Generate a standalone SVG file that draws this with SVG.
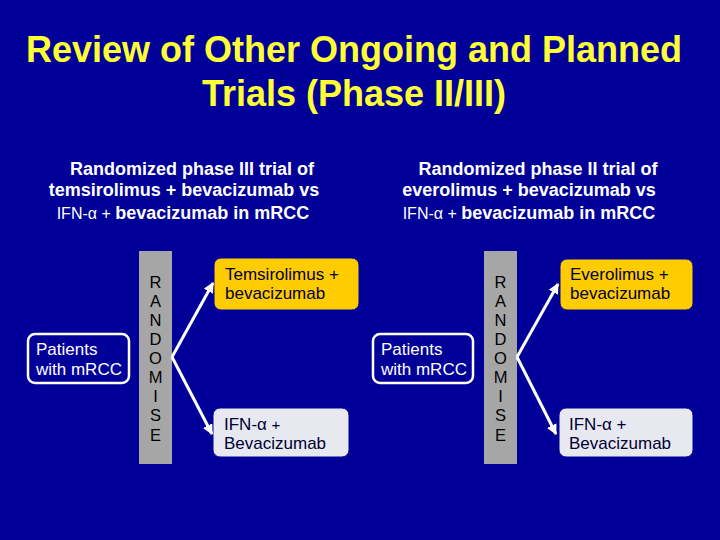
<svg xmlns="http://www.w3.org/2000/svg" width="720" height="540" viewBox="0 0 720 540">
<defs>
<style>
.t{font-family:"Liberation Sans",Arial,sans-serif;}
.title{font-size:36px;font-weight:bold;fill:#FFFF33;text-anchor:middle;}
.sub{font-size:18px;font-weight:bold;fill:#FFFFFF;text-anchor:middle;}
.subn{font-weight:normal;font-size:16px;}
.pat{fill:#000099;stroke:#FFFFFF;stroke-width:2.5;}
.ptxt{font-size:17px;fill:#FFFFFF;}
.bar{fill:#A6A6A6;}
.let{font-size:16.5px;fill:#000000;text-anchor:middle;}
.yel{fill:#FFCC00;stroke:#000099;stroke-width:1;}
.gry{fill:#E8E8F0;stroke:#000099;stroke-width:1;}
.btxt{font-size:17px;fill:#000033;}
.arr{stroke:#FFFFFF;stroke-width:3;fill:none;marker-end:url(#ah);}
</style>
<marker id="ah" viewBox="0 0 10 10" refX="9" refY="5" markerWidth="3.5" markerHeight="3.5" orient="auto" markerUnits="strokeWidth">
<path d="M0,0 L10,5 L0,10 z" fill="#FFFFFF"/>
</marker>
</defs>
<rect x="0" y="0" width="720" height="540" fill="#000099"/>
<g id="title" class="t">
<text class="title" x="354" y="62">Review of Other Ongoing and Planned</text>
<text class="title" x="354" y="106">Trials (Phase II/III)</text>
</g>
<g id="subtitle-left" class="t">
<text class="sub" x="192" y="175">Randomized phase III trial of</text>
<text class="sub" x="184" y="196">temsirolimus + bevacizumab vs</text>
<text class="sub" x="183" y="219"><tspan class="subn">IFN-α + </tspan>bevacizumab in mRCC</text>
</g>
<g id="subtitle-right" class="t">
<text class="sub" x="538" y="175">Randomized phase II trial of</text>
<text class="sub" x="529" y="196">everolimus + bevacizumab vs</text>
<text class="sub" x="529" y="219"><tspan class="subn">IFN-α + </tspan>bevacizumab in mRCC</text>
</g>
<g id="left-patients" class="t">
<rect class="pat" x="28" y="334" width="101" height="49" rx="7"/>
<text class="ptxt" x="36" y="355">Patients</text>
<text class="ptxt" x="36" y="375">with mRCC</text>
</g>
<g id="left-randomise" class="t">
<rect class="bar" x="139" y="251" width="33" height="213"/>
<text class="let" x="155.5" y="288">R</text>
<text class="let" x="155.5" y="307">A</text>
<text class="let" x="155.5" y="326">N</text>
<text class="let" x="155.5" y="345">D</text>
<text class="let" x="155.5" y="364">O</text>
<text class="let" x="155.5" y="383">M</text>
<text class="let" x="155.5" y="402">I</text>
<text class="let" x="155.5" y="421">S</text>
<text class="let" x="155.5" y="441">E</text>
</g>
<g id="left-arm1" class="t">
<rect class="yel" x="214" y="258" width="145" height="52" rx="7"/>
<text class="btxt" x="225" y="280">Temsirolimus +</text>
<text class="btxt" x="225" y="299">bevacizumab</text>
</g>
<g id="left-arm2" class="t">
<rect class="gry" x="213" y="408" width="136" height="49" rx="7"/>
<text class="btxt" x="224" y="430">IFN-α <tspan font-size="15">+</tspan></text>
<text class="btxt" x="224" y="449">Bevacizumab</text>
</g>
<g id="right-patients" class="t">
<rect class="pat" x="373" y="334" width="100" height="49" rx="7"/>
<text class="ptxt" x="381" y="355">Patients</text>
<text class="ptxt" x="381" y="375">with mRCC</text>
</g>
<g id="right-randomise" class="t">
<rect class="bar" x="484" y="251" width="33" height="213"/>
<text class="let" x="500.5" y="288">R</text>
<text class="let" x="500.5" y="307">A</text>
<text class="let" x="500.5" y="326">N</text>
<text class="let" x="500.5" y="345">D</text>
<text class="let" x="500.5" y="364">O</text>
<text class="let" x="500.5" y="383">M</text>
<text class="let" x="500.5" y="402">I</text>
<text class="let" x="500.5" y="421">S</text>
<text class="let" x="500.5" y="441">E</text>
</g>
<g id="right-arm1" class="t">
<rect class="yel" x="560" y="259" width="133" height="51" rx="7"/>
<text class="btxt" x="570" y="280">Everolimus +</text>
<text class="btxt" x="570" y="299">bevacizumab</text>
</g>
<g id="right-arm2" class="t">
<rect class="gry" x="559" y="408" width="134" height="49" rx="7"/>
<text class="btxt" x="569" y="430">IFN-α +</text>
<text class="btxt" x="569" y="449">Bevacizumab</text>
</g>
<g id="connectors">
<line class="arr" x1="172" y1="357" x2="213" y2="283"/>
<line class="arr" x1="172" y1="357" x2="212" y2="434"/>
<line class="arr" x1="517" y1="357" x2="558" y2="284"/>
<line class="arr" x1="517" y1="357" x2="556" y2="434"/>
</g>
</svg>
